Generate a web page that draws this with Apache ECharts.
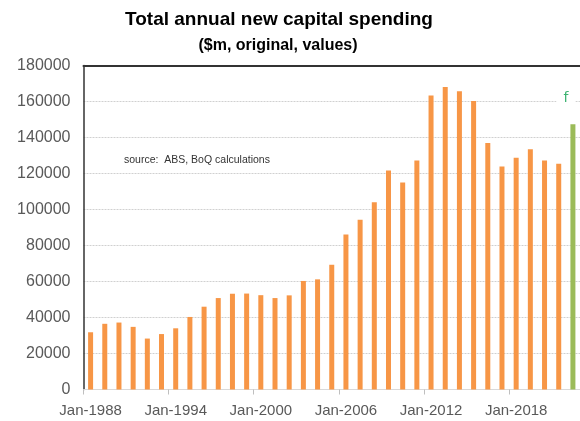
<!DOCTYPE html>
<html>
<head>
<meta charset="utf-8">
<script src="https://cdn.jsdelivr.net/npm/echarts@6/dist/echarts.min.js"></script>
<style>html,body{margin:0;padding:0;background:#fff;}#c{width:580px;height:421px;}</style>
</head>
<body>
<div id="c"></div>
<script>
var years = ['Jan-1988','Jan-1989','Jan-1990','Jan-1991','Jan-1992','Jan-1993','Jan-1994','Jan-1995','Jan-1996','Jan-1997','Jan-1998','Jan-1999','Jan-2000','Jan-2001','Jan-2002','Jan-2003','Jan-2004','Jan-2005','Jan-2006','Jan-2007','Jan-2008','Jan-2009','Jan-2010','Jan-2011','Jan-2012','Jan-2013','Jan-2014','Jan-2015','Jan-2016','Jan-2017','Jan-2018','Jan-2019','Jan-2020','Jan-2021','Jan-2022'];
var actualValues = [31800,36500,37200,34800,28300,30800,34000,40300,46000,50800,53200,53300,52400,50800,52300,60300,61200,69300,86100,94300,104000,121700,115000,127200,163300,168100,165700,160300,136900,123900,128800,133500,127200,125400,null];
var forecastValues = [null,null,null,null,null,null,null,null,null,null,null,null,null,null,null,null,null,null,null,null,null,null,null,null,null,null,null,null,null,null,null,null,null,null,147300];
var forecastLabel = 'f';
var titleText = 'Total annual new capital spending';
var subtitleText = '($m, original, values)';
var sourceText = 'source:  ABS, BoQ calculations';

var chart = echarts.init(document.getElementById('c'), null, {renderer: 'canvas'});
chart.setOption({
  animation: false,
  backgroundColor: '#fff',
  title: [
    {text: titleText, left: 274, top: 5, textAlign: 'center',
     textStyle: {fontFamily: 'Liberation Sans, Arial', fontSize: 19, fontWeight: 'bold', color: '#000'}},
    {text: subtitleText, left: 273, top: 33, textAlign: 'center',
     textStyle: {fontFamily: 'Liberation Sans, Arial', fontSize: 16, fontWeight: 'bold', color: '#000'}}
  ],
  graphic: [
    {type: 'text', left: 124, top: 155,
     style: {text: sourceText, fontFamily: 'Liberation Sans, Arial', fontSize: 10.5, fill: '#333'}}
  ],
  grid: {left: 83.5, top: 65.5, height: 324, width: 498.75, containLabel: false},
  xAxis: [
    {type: 'category', data: years, position: 'bottom', boundaryGap: true,
     axisLine: {show: true, lineStyle: {color: '#d9d9d9', width: 1}},
     axisTick: {show: true, interval: 5, length: 5, lineStyle: {color: '#bfbfbf'}},
     axisLabel: {interval: 5, margin: 14, fontFamily: 'Liberation Sans, Arial', fontSize: 15, color: '#595959'},
     splitLine: {show: false}},
    {type: 'category', data: years, position: 'top', boundaryGap: true,
     axisLine: {show: true, lineStyle: {color: '#333', width: 2}},
     axisTick: {show: false}, axisLabel: {show: false}}
  ],
  yAxis: {
    type: 'value', min: 0, max: 180000, interval: 20000,
    axisLine: {show: true, lineStyle: {color: '#333', width: 1.5}},
    axisTick: {show: false},
    axisLabel: {margin: 13, fontFamily: 'Liberation Sans, Arial', fontSize: 16, color: '#595959',
                formatter: function(v){return String(v);}},
    splitLine: {show: true, lineStyle: {color: '#d0d0d0', width: 1, type: [2, 1]}}
  },
  series: [
    {type: 'bar', data: actualValues, barWidth: 5, barGap: '-100%', xAxisIndex: 0,
     itemStyle: {color: '#f79646'}},
    {type: 'bar', data: forecastValues, barWidth: 5, barGap: '-100%', xAxisIndex: 0,
     itemStyle: {color: '#9bbb59'},
     label: {show: true, position: 'top', formatter: function(p){return p.value != null ? forecastLabel : '';},
             offset: [-7, -12], color: '#3cb371', fontSize: 14, fontFamily: 'DejaVu Sans',
             backgroundColor: '#fff', padding: [2, 7, 2, 7]}}
  ]
});
</script>
</body>
</html>
